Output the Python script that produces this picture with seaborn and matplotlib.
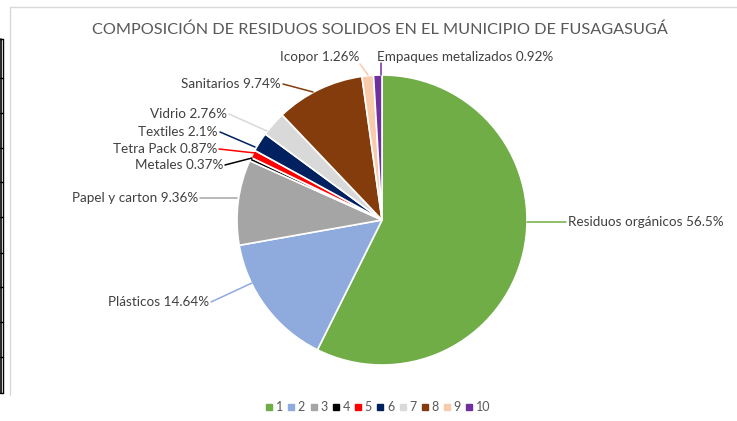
import matplotlib
matplotlib.use("Agg")
import matplotlib.pyplot as plt
from matplotlib.lines import Line2D
import seaborn as sns

# datos del grafico
nombres = ["Residuos orgánicos", "Plásticos", "Papel y carton", "Metales", "Tetra Pack",
           "Textiles", "Vidrio", "Sanitarios", "Icopor", "Empaques metalizados"]
porcentajes = [56.5, 14.64, 9.36, 0.37, 0.87, 2.1, 2.76, 9.74, 1.26, 0.92]
leyenda = ["1", "2", "3", "4", "5", "6", "7", "8", "9", "10"]
colores = ["#70AD47", "#8FAADC", "#A5A5A5", "#000000", "#FF0000",
           "#002060", "#D9D9D9", "#843C0C", "#F8CBAD", "#7030A0"]
titulo = "COMPOSICIÓN DE RESIDUOS SOLIDOS EN EL MUNICIPIO DE FUSAGASUGÁ"

sns.set_theme(style="white")
plt.rcParams["font.family"] = ["Lato", "DejaVu Sans"]

W, H = 737, 421
fig = plt.figure(figsize=(W / 100, H / 100), dpi=100)
ax = fig.add_axes([0, 0, 1, 1])

def py(y):  # coordenada de pantalla (desde arriba) -> datos
    return H - y

cx, cy, r = 382, 220, 145
wedges, _ = ax.pie(porcentajes, colors=colores, startangle=90, counterclock=False,
                   center=(cx, py(cy)), radius=r, frame=True,
                   wedgeprops=dict(edgecolor="white", linewidth=1.2))
ax.set_xlim(0, W)
ax.set_ylim(0, H)
ax.axis("off")

# posicion de etiquetas: (x texto, y texto, alineacion, inicio linea, fin linea)
pos = [
    (568, 222, "left", (566, 222), (527, 222)),
    (209, 302, "right", (211, 302), (252, 283)),
    (198, 198, "right", (200, 198), (237, 198)),
    (223, 165, "right", (225, 165), (252, 158)),
    (217, 149, "right", (219, 149), (255, 153)),
    (218, 132, "right", (220, 132), (255, 147)),
    (227, 114, "right", (229, 114), (267, 131)),
    (281, 84, "right", (283, 84), (313, 92)),
    (359, 57, "right", (360, 64), (368, 75)),
    (377, 57, "left", (381, 63), (381, 75)),
]
for nombre, val, col, (tx, ty, ha, p0, p1) in zip(nombres, porcentajes, colores, pos):
    ax.text(tx, py(ty), f"{nombre} {val:g}%", ha=ha, va="center",
            fontsize=9.7, color="#404040")
    ax.plot([p0[0], p1[0]], [py(p0[1]), py(p1[1])], color=col, lw=1.1)

ax.text(380, py(30), titulo, ha="center", va="center", fontsize=11.7, color="#595959")

handles = [Line2D([], [], marker="s", ls="", color=c, markersize=4.5) for c in colores]
fig.legend(handles, leyenda, loc="center", bbox_to_anchor=(378 / W, 1 - 407 / H),
           ncol=10, frameon=False, fontsize=9, handletextpad=0.25, columnspacing=0.4,
           handlelength=0.55, labelcolor="#595959")

# marco del area del grafico
fig.add_artist(Line2D([10 / W, 1], [1 - 7 / H, 1 - 7 / H], color="#D9D9D9", lw=1))
fig.add_artist(Line2D([10 / W, 10 / W], [1 - 7 / H, 1 - 395 / H], color="#D9D9D9", lw=1))

# borde de tabla a la izquierda
fig.add_artist(Line2D([1 / W, 1 / W], [1 - 39 / H, 1 - 393 / H], color="black", lw=1.2))
fig.add_artist(Line2D([3 / W, 3 / W], [1 - 39 / H, 1 - 393 / H], color="black", lw=1.0))
for yy in [39, 78, 113, 148, 182, 217, 253, 287, 322, 357, 393]:
    fig.add_artist(Line2D([0, 3 / W], [1 - yy / H, 1 - yy / H], color="black", lw=1.0))

fig.savefig("out.png", dpi=100)
